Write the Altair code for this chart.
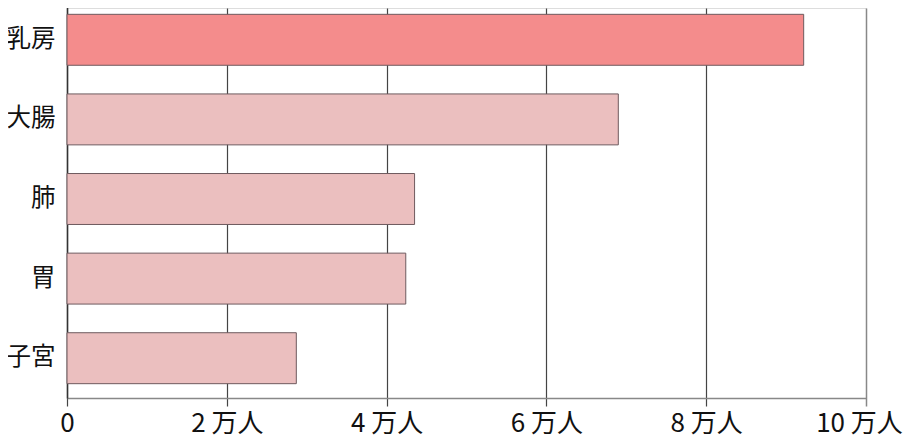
import altair as alt
import pandas as pd

categories = ["乳房", "大腸", "肺", "胃", "子宮"]
values = [9.22, 6.90, 4.35, 4.24, 2.87]  # 万人
highlight = [True, False, False, False, False]

df = pd.DataFrame({"site": categories, "value": values, "hl": highlight})

FONT = "Noto Sans CJK JP"

bars = alt.Chart(df).mark_bar(stroke="#6e5a5e", strokeWidth=1).encode(
    y=alt.Y("site:N", sort=categories,
            scale=alt.Scale(paddingInner=0.36, paddingOuter=0.18, range=[-8, 390]),
            axis=alt.Axis(title=None, ticks=False, domainColor="#333333", domainWidth=1.5,
                          labelFont=FONT, labelFontSize=24.5, labelColor="#111111",
                          labelPadding=12, grid=False)),
    x=alt.X("value:Q", scale=alt.Scale(domain=[0, 10], nice=False),
            axis=alt.Axis(title=None, values=[0, 2, 4, 6, 8, 10], ticks=False,
                          domainColor="#888888", domainWidth=1.5,
                          gridColor={"condition": {"test": "datum.value == 10", "value": "#888888"},
                                     "value": "#444444"},
                          gridWidth={"condition": {"test": "datum.value == 10", "value": 1.5},
                                     "value": 1.2},
                          gridOpacity=1,
                          labelFont=FONT, labelFontSize=26, labelColor="#111111",
                          labelPadding=12, labelFlush=False,
                          labelOffset={"condition": {"test": "datum.value == 10", "value": -7},
                                       "value": 0},
                          labelExpr="datum.value == 0 ? '0' : datum.value + ' 万人'")),
    color=alt.Color("hl:N", scale=alt.Scale(domain=[True, False], range=["#f48c8c", "#ebbfbf"]),
                    legend=None),
)

chart = bars.properties(width=799, height=390,
                        autosize=alt.AutoSizeParams(type="none"),
                        padding={"left": 59, "top": 0, "right": 40, "bottom": 42}).configure_view(
    stroke=None).configure(background="white")

chart.save("out.html", embed_options={"renderer": "svg", "actions": False})
